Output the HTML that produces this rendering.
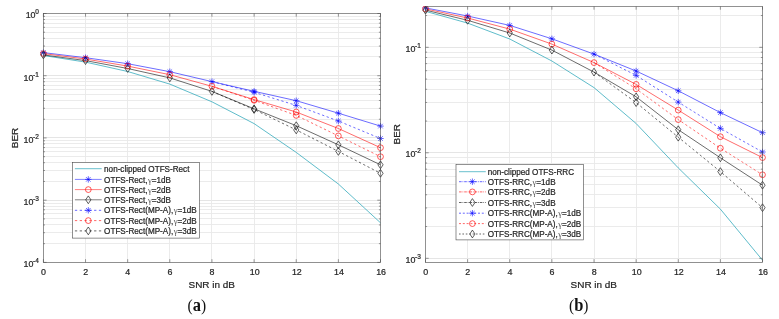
<!DOCTYPE html>
<html><head><meta charset="utf-8"><title>BER</title>
<style>html,body{margin:0;padding:0;background:#fff}svg{display:block}</style></head>
<body>
<svg width="779" height="319" viewBox="0 0 779 319">
<style>
text{font-family:"Liberation Sans",Arial,sans-serif;fill:#262626}
.tk,.lab,.lg{stroke:#262626;stroke-width:0.22px}
.gm{stroke:none}
.tk{font-size:8.9px}
.sup{font-size:6.5px}
.lab{font-size:9.95px}
.lg{font-size:8.15px}
.cap{font-family:"Liberation Serif","DejaVu Serif",serif;font-size:18.7px;fill:#111}
.gm{font-family:"Liberation Serif","DejaVu Serif",serif;font-size:8.6px;fill:#555}
.b{font-weight:bold}
.pr{font-size:17.6px}
</style>
<rect width="779" height="319" fill="#fff"/>
<rect x="43.4" y="13.5" width="337.1" height="248.89999999999998" fill="#fff"/>
<path d="M43.4 243.5H380.5M43.4 232.5H380.5M43.4 224.5H380.5M43.4 218.5H380.5M43.4 213.5H380.5M43.4 209.5H380.5M43.4 206.5H380.5M43.4 203.5H380.5M43.4 181.5H380.5M43.4 170.5H380.5M43.4 162.5H380.5M43.4 156.5H380.5M43.4 151.5H380.5M43.4 147.5H380.5M43.4 143.5H380.5M43.4 140.5H380.5M43.4 119.5H380.5M43.4 108.5H380.5M43.4 100.5H380.5M43.4 94.5H380.5M43.4 89.5H380.5M43.4 85.5H380.5M43.4 81.5H380.5M43.4 78.5H380.5M43.4 56.5H380.5M43.4 46.5H380.5M43.4 38.5H380.5M43.4 32.5H380.5M43.4 27.5H380.5M43.4 23.5H380.5M43.4 19.5H380.5M43.4 16.5H380.5" stroke="#e9e9e9" stroke-width="0.9" fill="none"/>
<path d="M43.4 200.5H380.5M43.4 137.5H380.5M43.4 75.5H380.5" stroke="#e2e2e2" stroke-width="0.9" fill="none"/>
<path d="M85.5 13.5V262.4M127.5 13.5V262.4M169.5 13.5V262.4M211.5 13.5V262.4M254.5 13.5V262.4M296.5 13.5V262.4M338.5 13.5V262.4" stroke="#e9e9e9" stroke-width="0.9" fill="none"/>
<clipPath id="ca"><rect x="39.4" y="13.0" width="345.1" height="249.89999999999998"/></clipPath>
<g clip-path="url(#ca)">
<polyline points="43.40,55.50 85.54,62.10 127.68,71.50 169.81,84.10 211.95,101.80 254.09,123.60 296.23,152.40 338.36,184.00 380.50,222.80" stroke="#2aa5b8" stroke-width="0.75" fill="none"/>
<polyline points="43.40,52.60 85.54,57.70 127.68,63.70 169.81,71.70 211.95,81.60 254.09,91.30 296.23,100.70 338.36,113.20 380.50,126.10" stroke="#0000ff" stroke-width="0.58" fill="none"/>
<polyline points="43.40,53.60 85.54,59.00 127.68,66.10 169.81,74.70 211.95,86.30 254.09,99.60 296.23,112.00 338.36,128.50 380.50,147.70" stroke="#ff0000" stroke-width="0.58" fill="none"/>
<polyline points="43.40,54.90 85.54,60.60 127.68,68.50 169.81,77.90 211.95,91.40 254.09,108.80 296.23,125.70 338.36,144.80 380.50,164.80" stroke="#000000" stroke-width="0.58" fill="none"/>
<polyline points="211.95,81.60 254.09,92.30 296.23,105.40 338.36,121.00 380.50,138.50" stroke="#0000ff" stroke-width="0.58" fill="none" stroke-dasharray="2.3 2.5"/>
<polyline points="211.95,86.30 254.09,100.30 296.23,115.40 338.36,135.90 380.50,156.70" stroke="#ff0000" stroke-width="0.58" fill="none" stroke-dasharray="2.3 2.5"/>
<polyline points="211.95,91.40 254.09,109.50 296.23,129.90 338.36,151.40 380.50,173.30" stroke="#000000" stroke-width="0.58" fill="none" stroke-dasharray="2.3 2.5"/>
<path d="M40.20 52.60L46.60 52.60M41.14 50.34L45.66 54.86M43.40 49.40L43.40 55.80M45.66 50.34L41.14 54.86" stroke="#0000ff" stroke-width="0.6" fill="none"/>
<path d="M82.34 57.70L88.74 57.70M83.27 55.44L87.80 59.96M85.54 54.50L85.54 60.90M87.80 55.44L83.27 59.96" stroke="#0000ff" stroke-width="0.6" fill="none"/>
<path d="M124.48 63.70L130.88 63.70M125.41 61.44L129.94 65.96M127.68 60.50L127.68 66.90M129.94 61.44L125.41 65.96" stroke="#0000ff" stroke-width="0.6" fill="none"/>
<path d="M166.61 71.70L173.01 71.70M167.55 69.44L172.08 73.96M169.81 68.50L169.81 74.90M172.08 69.44L167.55 73.96" stroke="#0000ff" stroke-width="0.6" fill="none"/>
<path d="M208.75 81.60L215.15 81.60M209.69 79.34L214.21 83.86M211.95 78.40L211.95 84.80M214.21 79.34L209.69 83.86" stroke="#0000ff" stroke-width="0.6" fill="none"/>
<path d="M250.89 91.30L257.29 91.30M251.82 89.04L256.35 93.56M254.09 88.10L254.09 94.50M256.35 89.04L251.82 93.56" stroke="#0000ff" stroke-width="0.6" fill="none"/>
<path d="M293.03 100.70L299.43 100.70M293.96 98.44L298.49 102.96M296.23 97.50L296.23 103.90M298.49 98.44L293.96 102.96" stroke="#0000ff" stroke-width="0.6" fill="none"/>
<path d="M335.16 113.20L341.56 113.20M336.10 110.94L340.63 115.46M338.36 110.00L338.36 116.40M340.63 110.94L336.10 115.46" stroke="#0000ff" stroke-width="0.6" fill="none"/>
<path d="M377.30 126.10L383.70 126.10M378.24 123.84L382.76 128.36M380.50 122.90L380.50 129.30M382.76 123.84L378.24 128.36" stroke="#0000ff" stroke-width="0.6" fill="none"/>
<circle cx="43.40" cy="53.60" r="2.9" stroke="#ff0000" stroke-width="0.65" fill="none"/>
<circle cx="85.54" cy="59.00" r="2.9" stroke="#ff0000" stroke-width="0.65" fill="none"/>
<circle cx="127.68" cy="66.10" r="2.9" stroke="#ff0000" stroke-width="0.65" fill="none"/>
<circle cx="169.81" cy="74.70" r="2.9" stroke="#ff0000" stroke-width="0.65" fill="none"/>
<circle cx="211.95" cy="86.30" r="2.9" stroke="#ff0000" stroke-width="0.65" fill="none"/>
<circle cx="254.09" cy="99.60" r="2.9" stroke="#ff0000" stroke-width="0.65" fill="none"/>
<circle cx="296.23" cy="112.00" r="2.9" stroke="#ff0000" stroke-width="0.65" fill="none"/>
<circle cx="338.36" cy="128.50" r="2.9" stroke="#ff0000" stroke-width="0.65" fill="none"/>
<circle cx="380.50" cy="147.70" r="2.9" stroke="#ff0000" stroke-width="0.65" fill="none"/>
<path d="M43.40 51.00L46.00 54.90L43.40 58.80L40.80 54.90Z" stroke="#000000" stroke-width="0.62" fill="none"/>
<path d="M85.54 56.70L88.14 60.60L85.54 64.50L82.94 60.60Z" stroke="#000000" stroke-width="0.62" fill="none"/>
<path d="M127.68 64.60L130.28 68.50L127.68 72.40L125.08 68.50Z" stroke="#000000" stroke-width="0.62" fill="none"/>
<path d="M169.81 74.00L172.41 77.90L169.81 81.80L167.21 77.90Z" stroke="#000000" stroke-width="0.62" fill="none"/>
<path d="M211.95 87.50L214.55 91.40L211.95 95.30L209.35 91.40Z" stroke="#000000" stroke-width="0.62" fill="none"/>
<path d="M254.09 104.90L256.69 108.80L254.09 112.70L251.49 108.80Z" stroke="#000000" stroke-width="0.62" fill="none"/>
<path d="M296.23 121.80L298.83 125.70L296.23 129.60L293.62 125.70Z" stroke="#000000" stroke-width="0.62" fill="none"/>
<path d="M338.36 140.90L340.96 144.80L338.36 148.70L335.76 144.80Z" stroke="#000000" stroke-width="0.62" fill="none"/>
<path d="M380.50 160.90L383.10 164.80L380.50 168.70L377.90 164.80Z" stroke="#000000" stroke-width="0.62" fill="none"/>
<path d="M250.89 92.30L257.29 92.30M251.82 90.04L256.35 94.56M254.09 89.10L254.09 95.50M256.35 90.04L251.82 94.56" stroke="#0000ff" stroke-width="0.6" fill="none"/>
<path d="M293.03 105.40L299.43 105.40M293.96 103.14L298.49 107.66M296.23 102.20L296.23 108.60M298.49 103.14L293.96 107.66" stroke="#0000ff" stroke-width="0.6" fill="none"/>
<path d="M335.16 121.00L341.56 121.00M336.10 118.74L340.63 123.26M338.36 117.80L338.36 124.20M340.63 118.74L336.10 123.26" stroke="#0000ff" stroke-width="0.6" fill="none"/>
<path d="M377.30 138.50L383.70 138.50M378.24 136.24L382.76 140.76M380.50 135.30L380.50 141.70M382.76 136.24L378.24 140.76" stroke="#0000ff" stroke-width="0.6" fill="none"/>
<circle cx="254.09" cy="100.30" r="2.9" stroke="#ff0000" stroke-width="0.65" fill="none"/>
<circle cx="296.23" cy="115.40" r="2.9" stroke="#ff0000" stroke-width="0.65" fill="none"/>
<circle cx="338.36" cy="135.90" r="2.9" stroke="#ff0000" stroke-width="0.65" fill="none"/>
<circle cx="380.50" cy="156.70" r="2.9" stroke="#ff0000" stroke-width="0.65" fill="none"/>
<path d="M254.09 105.60L256.69 109.50L254.09 113.40L251.49 109.50Z" stroke="#000000" stroke-width="0.62" fill="none"/>
<path d="M296.23 126.00L298.83 129.90L296.23 133.80L293.62 129.90Z" stroke="#000000" stroke-width="0.62" fill="none"/>
<path d="M338.36 147.50L340.96 151.40L338.36 155.30L335.76 151.40Z" stroke="#000000" stroke-width="0.62" fill="none"/>
<path d="M380.50 169.40L383.10 173.30L380.50 177.20L377.90 173.30Z" stroke="#000000" stroke-width="0.62" fill="none"/>
</g>
<path d="M43.40 262.4v-3.2M43.40 13.5v3.2M85.54 262.4v-3.2M85.54 13.5v3.2M127.68 262.4v-3.2M127.68 13.5v3.2M169.81 262.4v-3.2M169.81 13.5v3.2M211.95 262.4v-3.2M211.95 13.5v3.2M254.09 262.4v-3.2M254.09 13.5v3.2M296.23 262.4v-3.2M296.23 13.5v3.2M338.36 262.4v-3.2M338.36 13.5v3.2M380.50 262.4v-3.2M380.50 13.5v3.2M43.4 262.40h3.2M380.5 262.40h-3.2M43.4 243.67h1.6M380.5 243.67h-1.6M43.4 232.71h1.6M380.5 232.71h-1.6M43.4 224.94h1.6M380.5 224.94h-1.6M43.4 218.91h1.6M380.5 218.91h-1.6M43.4 213.98h1.6M380.5 213.98h-1.6M43.4 209.81h1.6M380.5 209.81h-1.6M43.4 206.21h1.6M380.5 206.21h-1.6M43.4 203.02h1.6M380.5 203.02h-1.6M43.4 200.18h3.2M380.5 200.18h-3.2M43.4 181.44h1.6M380.5 181.44h-1.6M43.4 170.49h1.6M380.5 170.49h-1.6M43.4 162.71h1.6M380.5 162.71h-1.6M43.4 156.68h1.6M380.5 156.68h-1.6M43.4 151.75h1.6M380.5 151.75h-1.6M43.4 147.59h1.6M380.5 147.59h-1.6M43.4 143.98h1.6M380.5 143.98h-1.6M43.4 140.80h1.6M380.5 140.80h-1.6M43.4 137.95h3.2M380.5 137.95h-3.2M43.4 119.22h1.6M380.5 119.22h-1.6M43.4 108.26h1.6M380.5 108.26h-1.6M43.4 100.49h1.6M380.5 100.49h-1.6M43.4 94.46h1.6M380.5 94.46h-1.6M43.4 89.53h1.6M380.5 89.53h-1.6M43.4 85.36h1.6M380.5 85.36h-1.6M43.4 81.76h1.6M380.5 81.76h-1.6M43.4 78.57h1.6M380.5 78.57h-1.6M43.4 75.72h3.2M380.5 75.72h-3.2M43.4 56.99h1.6M380.5 56.99h-1.6M43.4 46.04h1.6M380.5 46.04h-1.6M43.4 38.26h1.6M380.5 38.26h-1.6M43.4 32.23h1.6M380.5 32.23h-1.6M43.4 27.30h1.6M380.5 27.30h-1.6M43.4 23.14h1.6M380.5 23.14h-1.6M43.4 19.53h1.6M380.5 19.53h-1.6M43.4 16.35h1.6M380.5 16.35h-1.6M43.4 13.50h3.2M380.5 13.50h-3.2" stroke="#484848" stroke-width="0.55" fill="none"/>
<rect x="43.4" y="13.5" width="337.1" height="248.89999999999998" fill="none" stroke="#484848" stroke-width="0.6"/>
<text x="43.50" y="274.80" text-anchor="middle" class="tk">0</text>
<text x="85.64" y="274.80" text-anchor="middle" class="tk">2</text>
<text x="127.78" y="274.80" text-anchor="middle" class="tk">4</text>
<text x="169.91" y="274.80" text-anchor="middle" class="tk">6</text>
<text x="212.05" y="274.80" text-anchor="middle" class="tk">8</text>
<text x="254.69" y="274.80" text-anchor="middle" class="tk">10</text>
<text x="296.83" y="274.80" text-anchor="middle" class="tk">12</text>
<text x="338.96" y="274.80" text-anchor="middle" class="tk">14</text>
<text x="381.10" y="274.80" text-anchor="middle" class="tk">16</text>
<text x="38.80" y="267.20" text-anchor="end" class="tk">10<tspan dx="-0.35" dy="-4.0" class="sup">-4</tspan></text>
<text x="38.80" y="204.98" text-anchor="end" class="tk">10<tspan dx="-0.35" dy="-4.0" class="sup">-3</tspan></text>
<text x="38.80" y="142.75" text-anchor="end" class="tk">10<tspan dx="-0.35" dy="-4.0" class="sup">-2</tspan></text>
<text x="38.80" y="80.52" text-anchor="end" class="tk">10<tspan dx="-0.35" dy="-4.0" class="sup">-1</tspan></text>
<text x="38.80" y="18.30" text-anchor="end" class="tk">10<tspan dx="-0.35" dy="-4.0" class="sup">0</tspan></text>
<text x="211.75" y="288.00" text-anchor="middle" class="lab">SNR in dB</text>
<text transform="translate(18.1,137.95) rotate(-90)" text-anchor="middle" class="lab">BER</text>
<rect x="72.4" y="162.5" width="126.9" height="75.6" fill="#fff" stroke="#484848" stroke-width="0.6"/>
<path d="M74.90 168.70H101.70" stroke="#2aa5b8" stroke-width="0.7" fill="none"/>
<text x="104.10" y="171.80" class="lg">non-clipped OTFS-Rect</text>
<path d="M74.90 179.40H101.70" stroke="#0000ff" stroke-width="0.5" fill="none"/>
<path d="M85.10 179.40L91.50 179.40M86.04 177.14L90.56 181.66M88.30 176.20L88.30 182.60M90.56 177.14L86.04 181.66" stroke="#0000ff" stroke-width="0.6" fill="none"/>
<text x="104.10" y="182.50" class="lg">OTFS-Rect,<tspan class="gm" dx="0.5">&#947;</tspan>=1dB</text>
<path d="M74.90 189.60H101.70" stroke="#ff0000" stroke-width="0.5" fill="none"/>
<circle cx="88.30" cy="189.60" r="2.9" stroke="#ff0000" stroke-width="0.65" fill="none"/>
<text x="104.10" y="192.70" class="lg">OTFS-Rect,<tspan class="gm" dx="0.5">&#947;</tspan>=2dB</text>
<path d="M74.90 199.80H101.70" stroke="#000000" stroke-width="0.5" fill="none"/>
<path d="M88.30 195.90L90.90 199.80L88.30 203.70L85.70 199.80Z" stroke="#000000" stroke-width="0.62" fill="none"/>
<text x="104.10" y="202.90" class="lg">OTFS-Rect,<tspan class="gm" dx="0.5">&#947;</tspan>=3dB</text>
<path d="M74.90 210.30H101.70" stroke="#0000ff" stroke-width="0.6" fill="none" stroke-dasharray="2.3 2.5"/>
<path d="M85.10 210.30L91.50 210.30M86.04 208.04L90.56 212.56M88.30 207.10L88.30 213.50M90.56 208.04L86.04 212.56" stroke="#0000ff" stroke-width="0.6" fill="none"/>
<text x="104.10" y="213.40" class="lg">OTFS-Rect(MP-A),<tspan class="gm" dx="0.5">&#947;</tspan>=1dB</text>
<path d="M74.90 220.60H101.70" stroke="#ff0000" stroke-width="0.6" fill="none" stroke-dasharray="2.3 2.5"/>
<circle cx="88.30" cy="220.60" r="2.9" stroke="#ff0000" stroke-width="0.65" fill="none"/>
<text x="104.10" y="223.70" class="lg">OTFS-Rect(MP-A),<tspan class="gm" dx="0.5">&#947;</tspan>=2dB</text>
<path d="M74.90 230.90H101.70" stroke="#000000" stroke-width="0.6" fill="none" stroke-dasharray="2.3 2.5"/>
<path d="M88.30 227.00L90.90 230.90L88.30 234.80L85.70 230.90Z" stroke="#000000" stroke-width="0.62" fill="none"/>
<text x="104.10" y="234.00" class="lg">OTFS-Rect(MP-A),<tspan class="gm" dx="0.5">&#947;</tspan>=3dB</text>
<text transform="translate(196.8,310.5) scale(0.88,1)" text-anchor="middle" class="cap"><tspan class="pr">(</tspan><tspan class="b">a</tspan><tspan class="pr">)</tspan></text>
<rect x="425.5" y="6.5" width="337.0" height="255.89999999999998" fill="#fff"/>
<path d="M425.5 226.5H762.5M425.5 207.5H762.5M425.5 194.5H762.5M425.5 184.5H762.5M425.5 176.5H762.5M425.5 169.5H762.5M425.5 163.5H762.5M425.5 157.5H762.5M425.5 121.5H762.5M425.5 102.5H762.5M425.5 89.5H762.5M425.5 79.5H762.5M425.5 70.5H762.5M425.5 63.5H762.5M425.5 57.5H762.5M425.5 52.5H762.5M425.5 15.5H762.5" stroke="#e9e9e9" stroke-width="0.9" fill="none"/>
<path d="M425.5 258.5H762.5M425.5 152.5H762.5M425.5 47.5H762.5" stroke="#e2e2e2" stroke-width="0.9" fill="none"/>
<path d="M467.5 6.5V262.4M509.5 6.5V262.4M551.5 6.5V262.4M594.5 6.5V262.4M636.5 6.5V262.4M678.5 6.5V262.4M720.5 6.5V262.4" stroke="#e9e9e9" stroke-width="0.9" fill="none"/>
<clipPath id="cb"><rect x="421.5" y="6.0" width="345.0" height="256.9"/></clipPath>
<g clip-path="url(#cb)">
<polyline points="425.50,11.30 467.62,23.10 509.75,39.00 551.88,61.00 594.00,87.60 636.12,123.50 678.25,167.90 720.38,209.10 762.50,260.20" stroke="#2aa5b8" stroke-width="0.75" fill="none"/>
<polyline points="425.50,7.90 467.62,16.00 509.75,25.40 551.88,38.80 594.00,54.10 636.12,71.00 678.25,90.80 720.38,112.60 762.50,132.70" stroke="#0000ff" stroke-width="0.58" fill="none"/>
<polyline points="425.50,8.90 467.62,18.00 509.75,29.10 551.88,44.10 594.00,62.60 636.12,84.40 678.25,110.10 720.38,136.70 762.50,157.60" stroke="#ff0000" stroke-width="0.58" fill="none"/>
<polyline points="425.50,10.10 467.62,20.30 509.75,33.00 551.88,50.10 594.00,72.10 636.12,96.80 678.25,129.70 720.38,157.80 762.50,185.20" stroke="#000000" stroke-width="0.58" fill="none"/>
<polyline points="594.00,54.10 636.12,75.40 678.25,102.10 720.38,128.40 762.50,152.00" stroke="#0000ff" stroke-width="0.58" fill="none" stroke-dasharray="2.3 2.5"/>
<polyline points="594.00,62.60 636.12,88.80 678.25,119.60 720.38,148.20 762.50,174.80" stroke="#ff0000" stroke-width="0.58" fill="none" stroke-dasharray="2.3 2.5"/>
<polyline points="594.00,72.10 636.12,102.60 678.25,137.20 720.38,171.60 762.50,207.70" stroke="#000000" stroke-width="0.58" fill="none" stroke-dasharray="2.3 2.5"/>
<path d="M422.30 7.90L428.70 7.90M423.24 5.64L427.76 10.16M425.50 4.70L425.50 11.10M427.76 5.64L423.24 10.16" stroke="#0000ff" stroke-width="0.6" fill="none"/>
<path d="M464.43 16.00L470.82 16.00M465.36 13.74L469.89 18.26M467.62 12.80L467.62 19.20M469.89 13.74L465.36 18.26" stroke="#0000ff" stroke-width="0.6" fill="none"/>
<path d="M506.55 25.40L512.95 25.40M507.49 23.14L512.01 27.66M509.75 22.20L509.75 28.60M512.01 23.14L507.49 27.66" stroke="#0000ff" stroke-width="0.6" fill="none"/>
<path d="M548.67 38.80L555.08 38.80M549.61 36.54L554.14 41.06M551.88 35.60L551.88 42.00M554.14 36.54L549.61 41.06" stroke="#0000ff" stroke-width="0.6" fill="none"/>
<path d="M590.80 54.10L597.20 54.10M591.74 51.84L596.26 56.36M594.00 50.90L594.00 57.30M596.26 51.84L591.74 56.36" stroke="#0000ff" stroke-width="0.6" fill="none"/>
<path d="M632.92 71.00L639.33 71.00M633.86 68.74L638.39 73.26M636.12 67.80L636.12 74.20M638.39 68.74L633.86 73.26" stroke="#0000ff" stroke-width="0.6" fill="none"/>
<path d="M675.05 90.80L681.45 90.80M675.99 88.54L680.51 93.06M678.25 87.60L678.25 94.00M680.51 88.54L675.99 93.06" stroke="#0000ff" stroke-width="0.6" fill="none"/>
<path d="M717.17 112.60L723.58 112.60M718.11 110.34L722.64 114.86M720.38 109.40L720.38 115.80M722.64 110.34L718.11 114.86" stroke="#0000ff" stroke-width="0.6" fill="none"/>
<path d="M759.30 132.70L765.70 132.70M760.24 130.44L764.76 134.96M762.50 129.50L762.50 135.90M764.76 130.44L760.24 134.96" stroke="#0000ff" stroke-width="0.6" fill="none"/>
<circle cx="425.50" cy="8.90" r="2.9" stroke="#ff0000" stroke-width="0.65" fill="none"/>
<circle cx="467.62" cy="18.00" r="2.9" stroke="#ff0000" stroke-width="0.65" fill="none"/>
<circle cx="509.75" cy="29.10" r="2.9" stroke="#ff0000" stroke-width="0.65" fill="none"/>
<circle cx="551.88" cy="44.10" r="2.9" stroke="#ff0000" stroke-width="0.65" fill="none"/>
<circle cx="594.00" cy="62.60" r="2.9" stroke="#ff0000" stroke-width="0.65" fill="none"/>
<circle cx="636.12" cy="84.40" r="2.9" stroke="#ff0000" stroke-width="0.65" fill="none"/>
<circle cx="678.25" cy="110.10" r="2.9" stroke="#ff0000" stroke-width="0.65" fill="none"/>
<circle cx="720.38" cy="136.70" r="2.9" stroke="#ff0000" stroke-width="0.65" fill="none"/>
<circle cx="762.50" cy="157.60" r="2.9" stroke="#ff0000" stroke-width="0.65" fill="none"/>
<path d="M425.50 6.20L428.10 10.10L425.50 14.00L422.90 10.10Z" stroke="#000000" stroke-width="0.62" fill="none"/>
<path d="M467.62 16.40L470.23 20.30L467.62 24.20L465.02 20.30Z" stroke="#000000" stroke-width="0.62" fill="none"/>
<path d="M509.75 29.10L512.35 33.00L509.75 36.90L507.15 33.00Z" stroke="#000000" stroke-width="0.62" fill="none"/>
<path d="M551.88 46.20L554.48 50.10L551.88 54.00L549.27 50.10Z" stroke="#000000" stroke-width="0.62" fill="none"/>
<path d="M594.00 68.20L596.60 72.10L594.00 76.00L591.40 72.10Z" stroke="#000000" stroke-width="0.62" fill="none"/>
<path d="M636.12 92.90L638.73 96.80L636.12 100.70L633.52 96.80Z" stroke="#000000" stroke-width="0.62" fill="none"/>
<path d="M678.25 125.80L680.85 129.70L678.25 133.60L675.65 129.70Z" stroke="#000000" stroke-width="0.62" fill="none"/>
<path d="M720.38 153.90L722.98 157.80L720.38 161.70L717.77 157.80Z" stroke="#000000" stroke-width="0.62" fill="none"/>
<path d="M762.50 181.30L765.10 185.20L762.50 189.10L759.90 185.20Z" stroke="#000000" stroke-width="0.62" fill="none"/>
<path d="M632.92 75.40L639.33 75.40M633.86 73.14L638.39 77.66M636.12 72.20L636.12 78.60M638.39 73.14L633.86 77.66" stroke="#0000ff" stroke-width="0.6" fill="none"/>
<path d="M675.05 102.10L681.45 102.10M675.99 99.84L680.51 104.36M678.25 98.90L678.25 105.30M680.51 99.84L675.99 104.36" stroke="#0000ff" stroke-width="0.6" fill="none"/>
<path d="M717.17 128.40L723.58 128.40M718.11 126.14L722.64 130.66M720.38 125.20L720.38 131.60M722.64 126.14L718.11 130.66" stroke="#0000ff" stroke-width="0.6" fill="none"/>
<path d="M759.30 152.00L765.70 152.00M760.24 149.74L764.76 154.26M762.50 148.80L762.50 155.20M764.76 149.74L760.24 154.26" stroke="#0000ff" stroke-width="0.6" fill="none"/>
<circle cx="636.12" cy="88.80" r="2.9" stroke="#ff0000" stroke-width="0.65" fill="none"/>
<circle cx="678.25" cy="119.60" r="2.9" stroke="#ff0000" stroke-width="0.65" fill="none"/>
<circle cx="720.38" cy="148.20" r="2.9" stroke="#ff0000" stroke-width="0.65" fill="none"/>
<circle cx="762.50" cy="174.80" r="2.9" stroke="#ff0000" stroke-width="0.65" fill="none"/>
<path d="M636.12 98.70L638.73 102.60L636.12 106.50L633.52 102.60Z" stroke="#000000" stroke-width="0.62" fill="none"/>
<path d="M678.25 133.30L680.85 137.20L678.25 141.10L675.65 137.20Z" stroke="#000000" stroke-width="0.62" fill="none"/>
<path d="M720.38 167.70L722.98 171.60L720.38 175.50L717.77 171.60Z" stroke="#000000" stroke-width="0.62" fill="none"/>
<path d="M762.50 203.80L765.10 207.70L762.50 211.60L759.90 207.70Z" stroke="#000000" stroke-width="0.62" fill="none"/>
</g>
<path d="M425.50 262.4v-3.2M425.50 6.5v3.2M467.62 262.4v-3.2M467.62 6.5v3.2M509.75 262.4v-3.2M509.75 6.5v3.2M551.88 262.4v-3.2M551.88 6.5v3.2M594.00 262.4v-3.2M594.00 6.5v3.2M636.12 262.4v-3.2M636.12 6.5v3.2M678.25 262.4v-3.2M678.25 6.5v3.2M720.38 262.4v-3.2M720.38 6.5v3.2M762.50 262.4v-3.2M762.50 6.5v3.2M425.5 258.30h3.2M762.5 258.30h-3.2M425.5 226.54h1.6M762.5 226.54h-1.6M425.5 207.96h1.6M762.5 207.96h-1.6M425.5 194.78h1.6M762.5 194.78h-1.6M425.5 184.56h1.6M762.5 184.56h-1.6M425.5 176.21h1.6M762.5 176.21h-1.6M425.5 169.14h1.6M762.5 169.14h-1.6M425.5 163.02h1.6M762.5 163.02h-1.6M425.5 157.63h1.6M762.5 157.63h-1.6M425.5 152.80h3.2M762.5 152.80h-3.2M425.5 121.04h1.6M762.5 121.04h-1.6M425.5 102.46h1.6M762.5 102.46h-1.6M425.5 89.28h1.6M762.5 89.28h-1.6M425.5 79.06h1.6M762.5 79.06h-1.6M425.5 70.71h1.6M762.5 70.71h-1.6M425.5 63.64h1.6M762.5 63.64h-1.6M425.5 57.52h1.6M762.5 57.52h-1.6M425.5 52.13h1.6M762.5 52.13h-1.6M425.5 47.30h3.2M762.5 47.30h-3.2M425.5 15.54h1.6M762.5 15.54h-1.6" stroke="#484848" stroke-width="0.55" fill="none"/>
<rect x="425.5" y="6.5" width="337.0" height="255.89999999999998" fill="none" stroke="#484848" stroke-width="0.6"/>
<text x="425.60" y="274.80" text-anchor="middle" class="tk">0</text>
<text x="467.73" y="274.80" text-anchor="middle" class="tk">2</text>
<text x="509.85" y="274.80" text-anchor="middle" class="tk">4</text>
<text x="551.98" y="274.80" text-anchor="middle" class="tk">6</text>
<text x="594.10" y="274.80" text-anchor="middle" class="tk">8</text>
<text x="636.73" y="274.80" text-anchor="middle" class="tk">10</text>
<text x="678.85" y="274.80" text-anchor="middle" class="tk">12</text>
<text x="720.98" y="274.80" text-anchor="middle" class="tk">14</text>
<text x="763.10" y="274.80" text-anchor="middle" class="tk">16</text>
<text x="420.90" y="262.50" text-anchor="end" class="tk">10<tspan dx="-0.35" dy="-4.0" class="sup">-3</tspan></text>
<text x="420.90" y="157.00" text-anchor="end" class="tk">10<tspan dx="-0.35" dy="-4.0" class="sup">-2</tspan></text>
<text x="420.90" y="51.50" text-anchor="end" class="tk">10<tspan dx="-0.35" dy="-4.0" class="sup">-1</tspan></text>
<text x="593.80" y="288.00" text-anchor="middle" class="lab">SNR in dB</text>
<text transform="translate(400.4,134.20) rotate(-90)" text-anchor="middle" class="lab">BER</text>
<rect x="456.0" y="164.3" width="127.4" height="75.6" fill="#fff" stroke="#484848" stroke-width="0.6"/>
<path d="M459.00 171.70H485.80" stroke="#2aa5b8" stroke-width="0.7" fill="none"/>
<text x="487.80" y="174.80" class="lg">non-clipped OTFS-RRC</text>
<path d="M459.00 181.70H485.80" stroke="#0000ff" stroke-width="0.6" fill="none" stroke-dasharray="2.6 0.9 0.8 0.9"/>
<path d="M469.20 181.70L475.60 181.70M470.14 179.44L474.66 183.96M472.40 178.50L472.40 184.90M474.66 179.44L470.14 183.96" stroke="#0000ff" stroke-width="0.6" fill="none"/>
<text x="487.80" y="184.80" class="lg">OTFS-RRC,<tspan class="gm" dx="0.5">&#947;</tspan>=1dB</text>
<path d="M459.00 191.90H485.80" stroke="#ff0000" stroke-width="0.6" fill="none" stroke-dasharray="2.6 0.9 0.8 0.9"/>
<circle cx="472.40" cy="191.90" r="2.9" stroke="#ff0000" stroke-width="0.65" fill="none"/>
<text x="487.80" y="195.00" class="lg">OTFS-RRC,<tspan class="gm" dx="0.5">&#947;</tspan>=2dB</text>
<path d="M459.00 202.50H485.80" stroke="#000000" stroke-width="0.6" fill="none" stroke-dasharray="2.6 0.9 0.8 0.9"/>
<path d="M472.40 198.60L475.00 202.50L472.40 206.40L469.80 202.50Z" stroke="#000000" stroke-width="0.62" fill="none"/>
<text x="487.80" y="205.60" class="lg">OTFS-RRC,<tspan class="gm" dx="0.5">&#947;</tspan>=3dB</text>
<path d="M459.00 213.20H485.80" stroke="#0000ff" stroke-width="0.6" fill="none" stroke-dasharray="2 1.8"/>
<path d="M469.20 213.20L475.60 213.20M470.14 210.94L474.66 215.46M472.40 210.00L472.40 216.40M474.66 210.94L470.14 215.46" stroke="#0000ff" stroke-width="0.6" fill="none"/>
<text x="487.80" y="216.30" class="lg">OTFS-RRC(MP-A),<tspan class="gm" dx="0.5">&#947;</tspan>=1dB</text>
<path d="M459.00 223.60H485.80" stroke="#ff0000" stroke-width="0.6" fill="none" stroke-dasharray="2 1.8"/>
<circle cx="472.40" cy="223.60" r="2.9" stroke="#ff0000" stroke-width="0.65" fill="none"/>
<text x="487.80" y="226.70" class="lg">OTFS-RRC(MP-A),<tspan class="gm" dx="0.5">&#947;</tspan>=2dB</text>
<path d="M459.00 234.00H485.80" stroke="#000000" stroke-width="0.6" fill="none" stroke-dasharray="1.6 1.8"/>
<path d="M472.40 230.10L475.00 234.00L472.40 237.90L469.80 234.00Z" stroke="#000000" stroke-width="0.62" fill="none"/>
<text x="487.80" y="237.10" class="lg">OTFS-RRC(MP-A),<tspan class="gm" dx="0.5">&#947;</tspan>=3dB</text>
<text transform="translate(578.8,310.5) scale(0.88,1)" text-anchor="middle" class="cap"><tspan class="pr">(</tspan><tspan class="b">b</tspan><tspan class="pr">)</tspan></text>
</svg>
</body></html>
